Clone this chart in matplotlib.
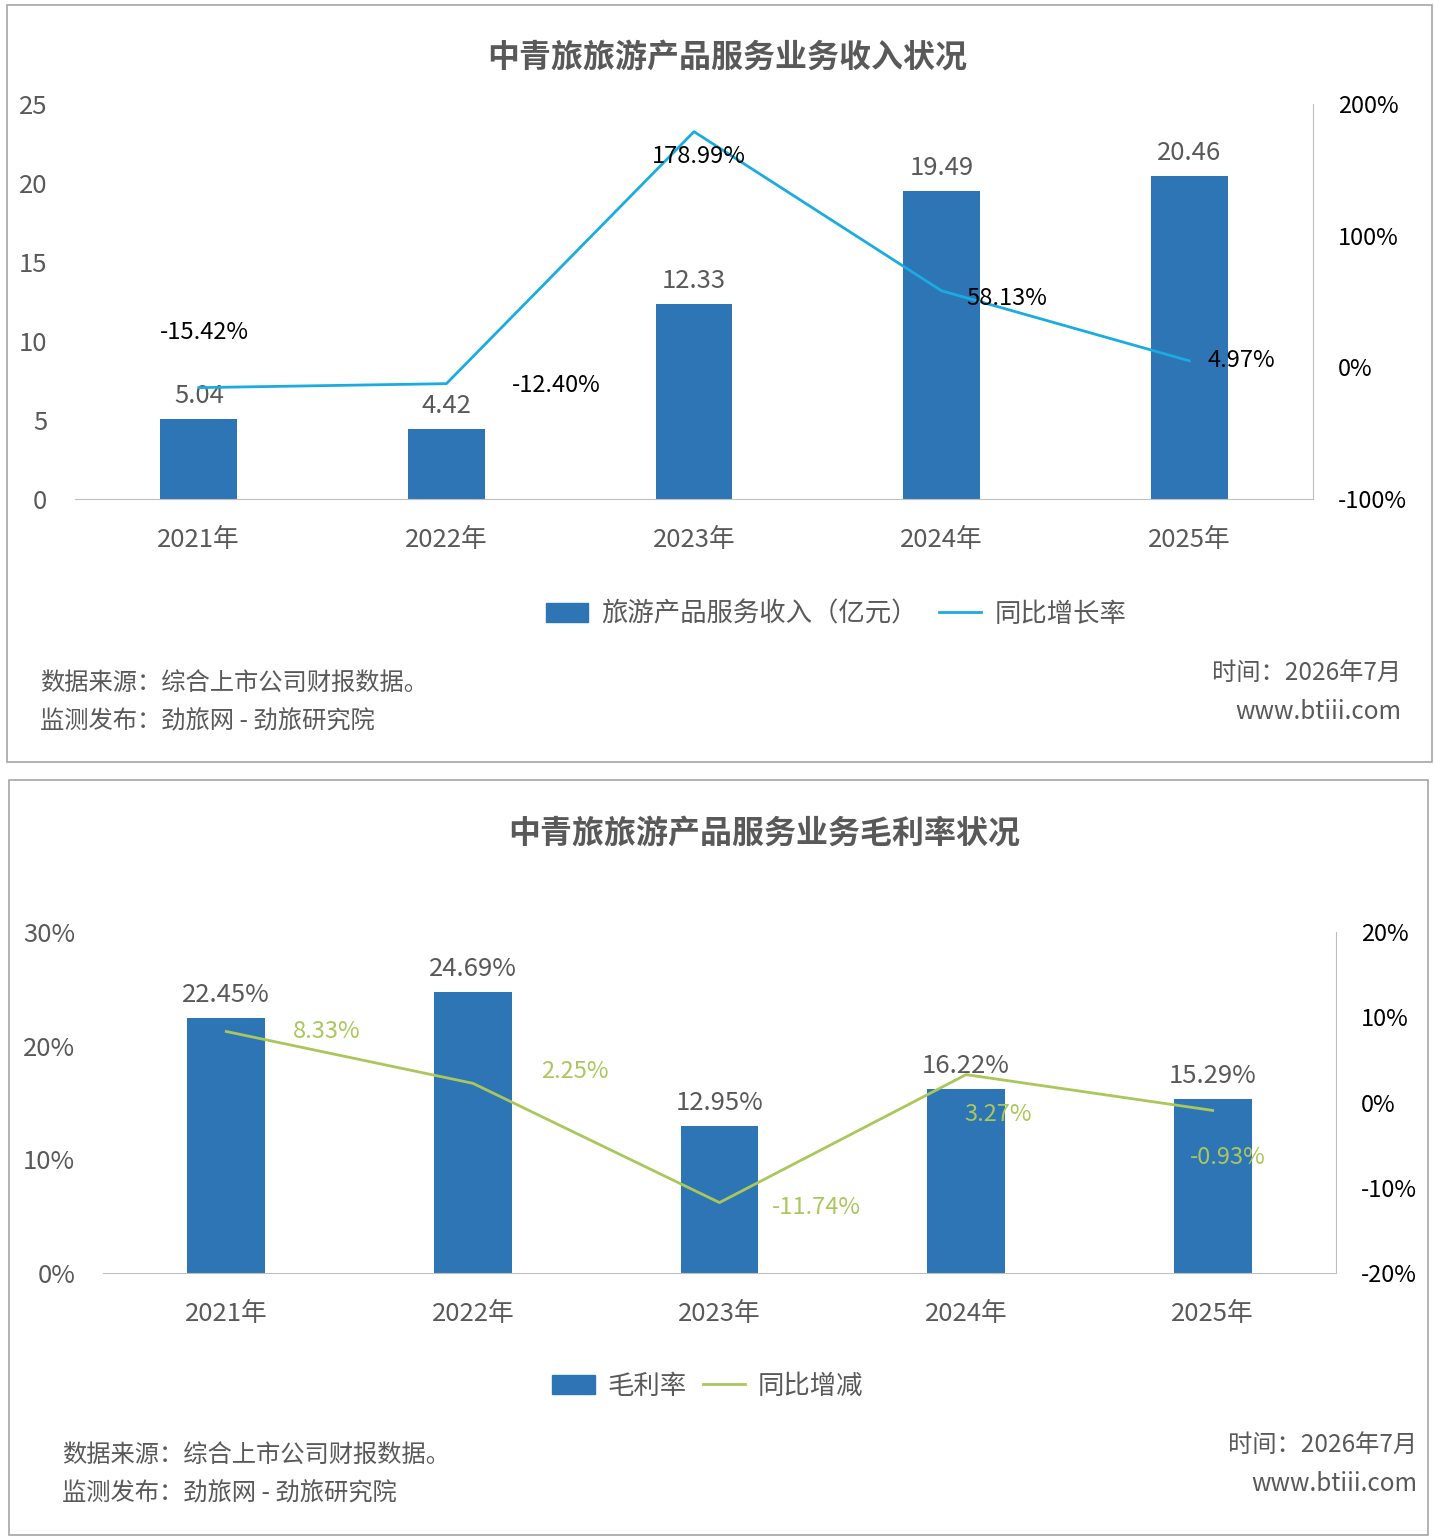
import matplotlib
matplotlib.use("Agg")
import matplotlib.pyplot as plt
from matplotlib.patches import Rectangle
from matplotlib.lines import Line2D

plt.rcParams['font.family'] = ['Noto Sans CJK SC', 'DejaVu Sans']

years = ['2021年', '2022年', '2023年', '2024年', '2025年']
revenue = [5.04, 4.42, 12.33, 19.49, 20.46]
revenue_yoy = [-15.42, -12.40, 178.99, 58.13, 4.97]
margin = [22.45, 24.69, 12.95, 16.22, 15.29]
margin_chg = [8.33, 2.25, -11.74, 3.27, -0.93]

BAR = '#2E75B6'
CYAN = '#1AACE0'
GREEN = '#A9C75A'
GRAY = '#595959'
AXC = '#BFBFBF'

W, H = 1434, 1538
fig = plt.figure(figsize=(W / 100, H / 100), dpi=100)


def px(x0, y0, x1, y1):
    return [x0 / W, 1 - y1 / H, (x1 - x0) / W, (y1 - y0) / H]


# panel borders
for x0, y0, x1, y1 in [(7, 5, 1432, 762), (9, 780, 1428, 1535)]:
    fig.patches.append(Rectangle((x0 / W, 1 - y1 / H), (x1 - x0) / W, (y1 - y0) / H,
                                 transform=fig.transFigure, fill=False, ec='#A6A6A6', lw=1.2))


def style(ax, ax2):
    for s in ['top', 'left', 'right']:
        ax.spines[s].set_visible(False)
    ax.spines['bottom'].set_color(AXC)
    for s in ['top', 'left', 'bottom']:
        ax2.spines[s].set_visible(False)
    ax2.spines['right'].set_color(AXC)
    ax.tick_params(length=0, labelsize=18.5, labelcolor=GRAY, pad=20)
    ax2.tick_params(length=0, labelsize=17, labelcolor='black', pad=18)
    ax.tick_params(axis='x', pad=20)


# ---------- chart 1 ----------
x = range(len(years))
ax = fig.add_axes(px(75, 104, 1313, 499))
ax2 = ax.twinx()
ax.bar(x, revenue, width=0.31, color=BAR, zorder=2)
ax.set_xlim(-0.5, 4.5)
ax.set_ylim(0, 25)
ax.set_yticks([0, 5, 10, 15, 20, 25])
ax.set_xticks(list(x))
ax.set_xticklabels(years)
ax2.plot(x, revenue_yoy, color=CYAN, lw=2, zorder=3)
ax2.set_ylim(-100, 200)
ax2.set_yticks([-100, 0, 100, 200])
ax2.set_yticklabels(['-100%', '0%', '100%', '200%'])
style(ax, ax2)
for i, v in enumerate(revenue):
    ax.annotate(f'{v:.2f}', (i, v), xytext=(0, 10), textcoords='offset pixels',
                ha='center', va='bottom', fontsize=18.5, color=GRAY)
offs1 = [(6, 55), (110, -2), (5, -25), (65, -8), (52, 0)]
for i, v in enumerate(revenue_yoy):
    ax2.annotate(f'{v:.2f}%', (i, v), xytext=offs1[i], textcoords='offset pixels',
                 ha='center', va='center', fontsize=17, color='black', zorder=5)
fig.text(727 / W, 1 - 58 / H, '中青旅旅游产品服务业务收入状况', ha='center', va='center',
         fontsize=23, fontweight='bold', color=GRAY)
handles = [Rectangle((0, 0), 1, 1, color=BAR), Line2D([], [], color=CYAN, lw=2)]
fig.legend(handles, ['旅游产品服务收入（亿元）', '同比增长率'], loc='center',
           bbox_to_anchor=(836 / W, 1 - 614 / H), ncol=2, frameon=False, fontsize=19,
           labelcolor=GRAY, handlelength=1.6, columnspacing=0.8, handletextpad=0.5)
fig.text(40 / W, 1 - 684 / H, '数据来源：综合上市公司财报数据。', fontsize=17.5, color=GRAY, va='center')
fig.text(40 / W, 1 - 721 / H, '监测发布：劲旅网 - 劲旅研究院', fontsize=17.5, color=GRAY, va='center')
fig.text(1401 / W, 1 - 674 / H, '时间：2026年7月', fontsize=17.5, color=GRAY, va='center', ha='right')
fig.text(1401 / W, 1 - 712 / H, 'www.btiii.com', fontsize=17.5, color=GRAY, va='center', ha='right')

# ---------- chart 2 ----------
bx = fig.add_axes(px(103, 932, 1336, 1273))
bx2 = bx.twinx()
bx.bar(x, margin, width=0.315, color=BAR, zorder=2)
bx.set_xlim(-0.5, 4.5)
bx.set_ylim(0, 30)
bx.set_yticks([0, 10, 20, 30])
bx.set_yticklabels(['0%', '10%', '20%', '30%'])
bx.set_xticks(list(x))
bx.set_xticklabels(years)
bx2.plot(x, margin_chg, color=GREEN, lw=2, zorder=3)
bx2.set_ylim(-20, 20)
bx2.set_yticks([-20, -10, 0, 10, 20])
bx2.set_yticklabels(['-20%', '-10%', '0%', '10%', '20%'])
style(bx, bx2)
for i, v in enumerate(margin):
    bx.annotate(f'{v:.2f}%', (i, v), xytext=(0, 10), textcoords='offset pixels',
                ha='center', va='bottom', fontsize=18.5, color=GRAY)
offs2 = [(100, 0), (102, 12), (97, -5), (32, -40), (15, -47)]
for i, v in enumerate(margin_chg):
    bx2.annotate(f'{v:.2f}%', (i, v), xytext=offs2[i], textcoords='offset pixels',
                 ha='center', va='center', fontsize=17, color=GREEN, zorder=5)
fig.text(764 / W, 1 - 834 / H, '中青旅旅游产品服务业务毛利率状况', ha='center', va='center',
         fontsize=23, fontweight='bold', color=GRAY)
handles = [Rectangle((0, 0), 1, 1, color=BAR), Line2D([], [], color=GREEN, lw=2)]
fig.legend(handles, ['毛利率', '同比增减'], loc='center',
           bbox_to_anchor=(708 / W, 1 - 1386 / H), ncol=2, frameon=False, fontsize=19,
           labelcolor=GRAY, handlelength=1.6, columnspacing=0.6, handletextpad=0.5)
fig.text(62 / W, 1 - 1456 / H, '数据来源：综合上市公司财报数据。', fontsize=17.5, color=GRAY, va='center')
fig.text(62 / W, 1 - 1493 / H, '监测发布：劲旅网 - 劲旅研究院', fontsize=17.5, color=GRAY, va='center')
fig.text(1417 / W, 1 - 1446 / H, '时间：2026年7月', fontsize=17.5, color=GRAY, va='center', ha='right')
fig.text(1417 / W, 1 - 1484 / H, 'www.btiii.com', fontsize=17.5, color=GRAY, va='center', ha='right')

fig.savefig('out.png', dpi=100)
